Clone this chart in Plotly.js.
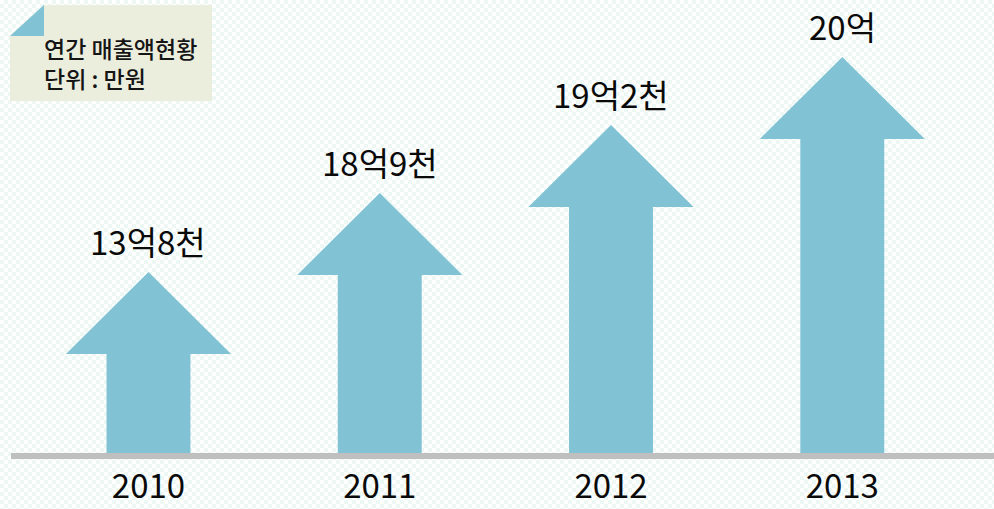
<!DOCTYPE html>
<html>
<head>
<meta charset="utf-8">
<script src="https://cdn.plot.ly/plotly-3.0.1.min.js"></script>
<style>
  html, body { margin: 0; padding: 0; }
  body {
    width: 994px; height: 509px; overflow: hidden;
    background: repeating-conic-gradient(#edf8f4 0 25%, #ffffff 0 50%) 0 0 / 8px 8px;
  }
  #chart { width: 994px; height: 509px; }
</style>
</head>
<body>
<div id="chart"></div>
<script>
// ---- data ----
const years = ['2010', '2011', '2012', '2013'];
const valueLabels = ['13억8천', '18억9천', '19억2천', '20억'];
// arrow tip heights above the baseline, as drawn in the picture
const arrowTops = [181, 260, 328, 396];
const noteLines = ['연간 매출액현황', '단위 : 만원'];

// ---- style constants ----
const W = 994, H = 509, plotBottom = 453;
const arrowColor = '#81c3d4';
const headHeight = 82;
const headHalf = 0.357;
const shaftWidth = 0.363;
const korFont = '"Noto Sans CJK KR", "Noto Sans", sans-serif';

const idx = years.map((_, i) => i);

const shafts = {
  type: 'bar',
  x: idx,
  y: arrowTops.map(t => t - headHeight),
  width: shaftWidth,
  marker: { color: arrowColor, line: { width: 0 } },
  hoverinfo: 'skip'
};

const hx = [], hy = [];
idx.forEach((i, k) => {
  const base = arrowTops[k] - headHeight;
  hx.push(i - headHalf, i, i + headHalf, null);
  hy.push(base, arrowTops[k], base, null);
});
const heads = {
  type: 'scatter', mode: 'lines',
  x: hx, y: hy,
  fill: 'toself', fillcolor: arrowColor,
  line: { color: arrowColor, width: 0 },
  hoverinfo: 'skip'
};

const px = x => x / W;
const py = y => (plotBottom - y) / plotBottom;

const annotations = idx.map((i, k) => ({
  x: i, y: arrowTops[k], xref: 'x', yref: 'y',
  text: valueLabels[k], showarrow: false,
  xanchor: 'center', yanchor: 'bottom', yshift: 5,
  font: { family: korFont, size: 33, color: '#0a0a0a', weight: 400 }
}));
annotations.push({
  x: px(42), y: py(62.5), xref: 'paper', yref: 'paper',
  text: noteLines.join('<br>'), showarrow: false, align: 'left',
  xanchor: 'left', yanchor: 'middle',
  font: { family: korFont, size: 23, color: '#151515', weight: 500 }
});

const shapes = [
  { type: 'path', xref: 'paper', yref: 'paper', layer: 'below',
    path: `M${px(44)},${py(5)} L${px(212)},${py(5)} L${px(212)},${py(101)} L${px(10)},${py(101)} L${px(10)},${py(36)} Z`,
    fillcolor: '#ebeedd', line: { width: 0 } },
  { type: 'path', xref: 'paper', yref: 'paper', layer: 'below',
    path: `M${px(44)},${py(5)} L${px(44)},${py(36)} L${px(10)},${py(36)} Z`,
    fillcolor: arrowColor, line: { width: 0 } },
  { type: 'line', xref: 'paper', yref: 'paper', layer: 'above',
    x0: px(11), x1: 1, y0: -3 / plotBottom, y1: -3 / plotBottom,
    line: { color: '#bfbfbf', width: 6 } }
];

const layout = {
  width: W, height: H,
  margin: { l: 0, r: 0, t: 0, b: H - plotBottom, pad: 0 },
  paper_bgcolor: 'rgba(0,0,0,0)',
  plot_bgcolor: 'rgba(0,0,0,0)',
  showlegend: false,
  xaxis: {
    range: [-0.642, 3.656], tickmode: 'array', tickvals: idx, ticktext: years,
    showgrid: false, zeroline: false, showline: false, ticks: '',
    ticklabelstandoff: 11,
    tickfont: { family: korFont, size: 33, color: '#0a0a0a', weight: 400 },
    fixedrange: true
  },
  yaxis: { range: [0, plotBottom], visible: false, fixedrange: true },
  shapes: shapes,
  annotations: annotations
};

Plotly.newPlot('chart', [shafts, heads], layout, { displayModeBar: false, staticPlot: true });
</script>
</body>
</html>
